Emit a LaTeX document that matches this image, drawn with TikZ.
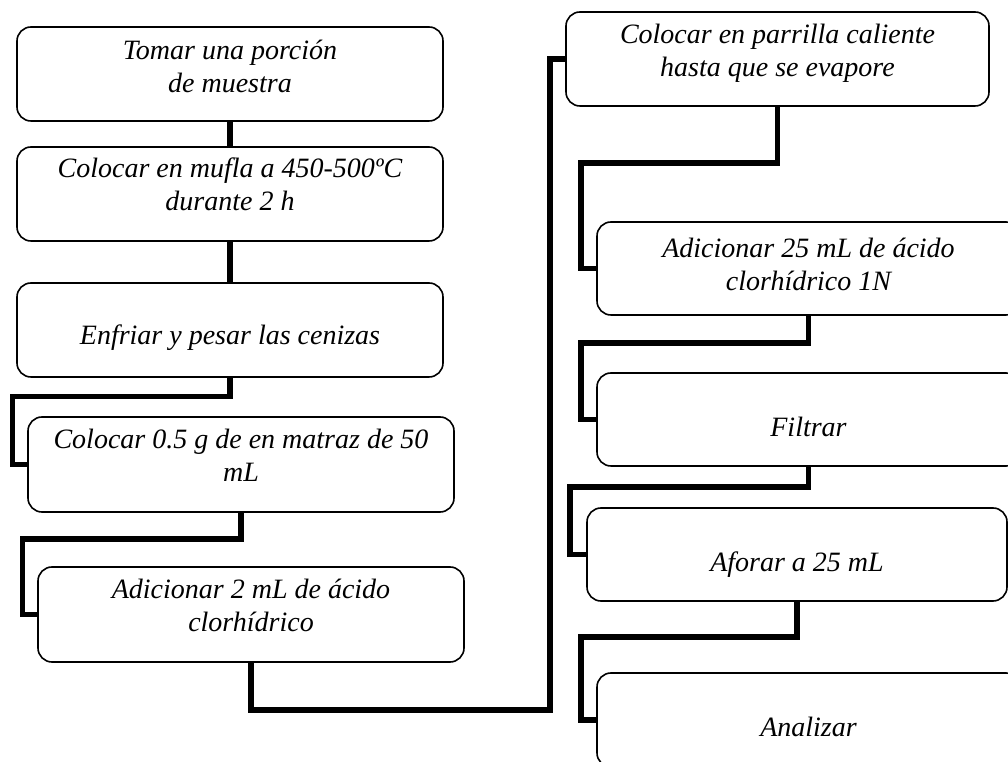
\documentclass[tikz,border=0pt]{standalone}
\usepackage{fontspec}
\setmainfont{Liberation Serif}
\begin{document}
\begin{tikzpicture}[x=0.75pt,y=-0.75pt,
  stepbox/.style={draw=black, line width=1.2pt, rounded corners=10.5pt,
    fill=white, inner sep=0pt, minimum width=319.5pt, minimum height=70.5pt},
  steptext/.style={font=\fontsize{21}{24.75}\selectfont\itshape,
    align=center, inner sep=0pt},
  link/.style={draw=black, line width=4.2pt, line join=miter, line cap=butt}]
\useasboundingbox (0,0) rectangle (1008,762);
\clip (0,0) rectangle (1008,762);
\fill[white] (0,0) rectangle (1008,762);

% left column
\node[stepbox] (b1) at (230,74) {};
\node[stepbox] (b2) at (230,194) {};
\node[stepbox] (b3) at (230,330) {};
\node[stepbox, minimum height=71.25pt] (b4) at (241,464.5) {};
\node[stepbox, minimum height=71.25pt] (b5) at (251,614.5) {};

% right column
\node[stepbox, minimum width=317.25pt] (b6) at (777.5,59) {};
\node[stepbox, minimum width=317.25pt, minimum height=69.75pt] (b7) at (808.5,268.5) {};
\node[stepbox, minimum width=317.25pt, minimum height=69.75pt] (b8) at (808.5,419.5) {};
\node[stepbox, minimum width=315pt, minimum height=69.75pt] (b9) at (797,554.5) {};
\node[stepbox, minimum width=317.25pt] (b10) at (808.5,720) {};

% labels
\node[steptext] (t1) at (230,69.5) {\strut Tomar una porción\\\strut de muestra};
\node[steptext] (t2) at (230,187.5) {\strut Colocar en mufla a 450-500ºC\\\strut durante 2 h};
\node[steptext] (t3) at (230,338.4) {\strut Enfriar y pesar las cenizas};
\node[steptext] (t4) at (241,458.5) {\strut Colocar 0.5 g de en matraz de 50\\\strut mL};
\node[steptext] (t5) at (251,608.5) {\strut Adicionar 2 mL de ácido\\\strut clorhídrico};
\node[steptext] (t6) at (777.5,53.5) {\strut Colocar en parrilla caliente\\\strut hasta que se evapore};
\node[steptext] (t7) at (808.5,267.5) {\strut Adicionar 25 mL de ácido\\\strut clorhídrico 1N};
\node[steptext] (t8) at (808.5,430.4) {\strut Filtrar};
\node[steptext] (t9) at (797,565.4) {\strut Aforar a 25 mL};
\node[steptext] (t10) at (808.5,730.4) {\strut Analizar};

% connectors
\draw[link] (b1.south) -- (b2.north);
\draw[link] (b2.south) -- (b3.north);
\draw[link] (b3.south) |- (12.5,396.5) |- (b4.west);
\draw[link] (b4.south) |- (22.5,539) |- (b5.west);
\draw[link] (b5.south) |- (550,710) |- (b6.west);
\draw[link] (b6.south) |- (581,163) |- (b7.west);
\draw[link] (b7.south) |- (581,343) |- (b8.west);
\draw[link] (b8.south) |- (570,487) |- (b9.west);
\draw[link] (b9.south) |- (581,637) |- (b10.west);
\end{tikzpicture}
\end{document}
